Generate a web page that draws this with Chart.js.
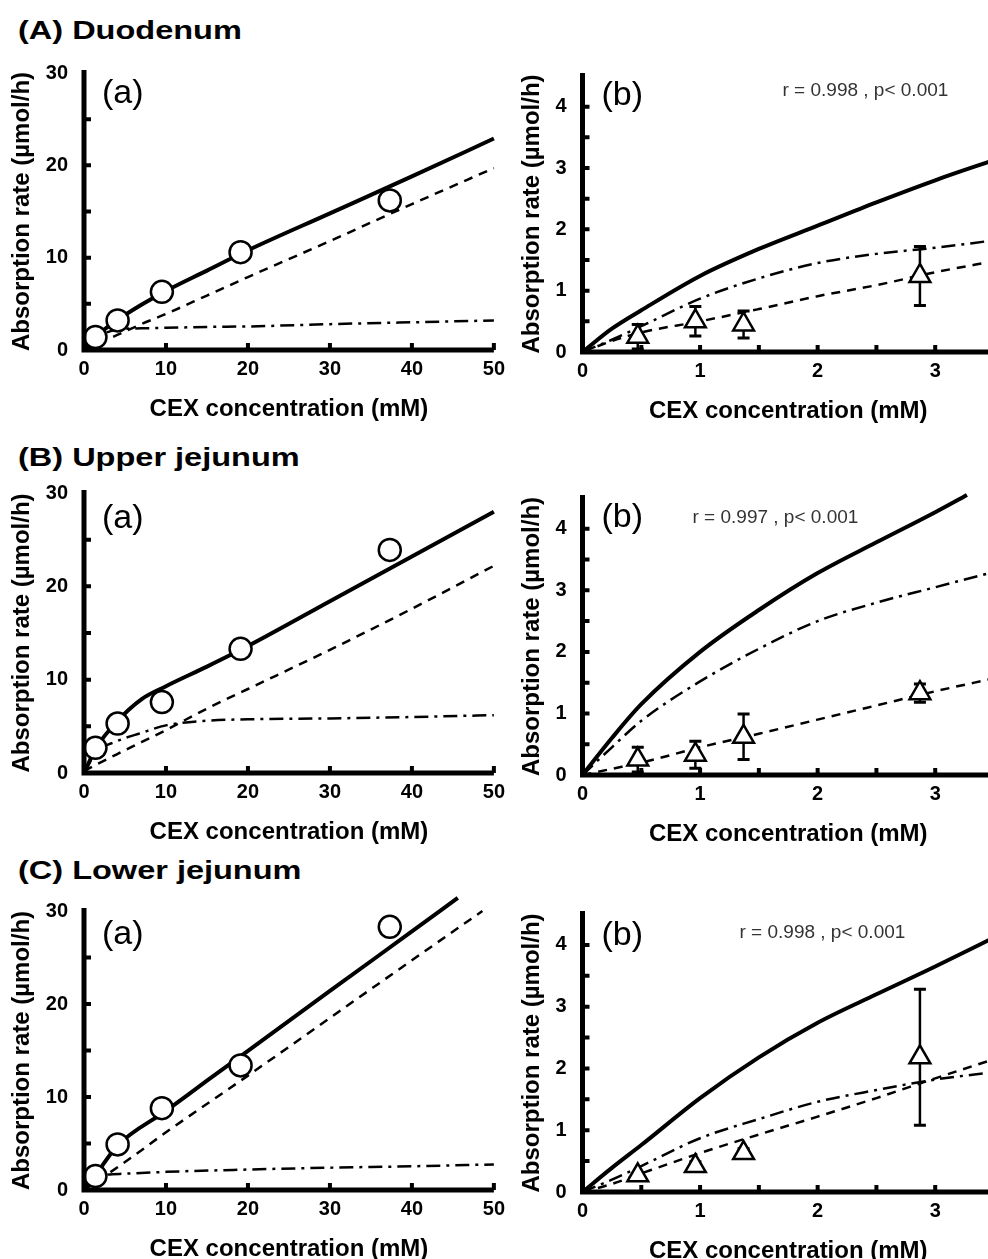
<!DOCTYPE html>
<html>
<head>
<meta charset="utf-8">
<script src="https://cdn.jsdelivr.net/npm/chart.js@4.4.0/dist/chart.umd.min.js"></script>
<style>
  html, body { margin: 0; padding: 0; background: #fff; overflow: hidden; }
  body { width: 988px; height: 1259px; position: relative; font-family: "Liberation Sans", Arial, sans-serif; }
  .section { position: absolute; left: 18px; font-weight: bold; font-size: 25px; line-height: 30px;
             transform: scaleX(1.3); transform-origin: left center; white-space: nowrap; }
  canvas { position: absolute; }
</style>
</head>
<body>
<div class="section" style="top:15px">(A) Duodenum</div>
<div class="section" style="top:442px">(B) Upper jejunum</div>
<div class="section" style="top:855px">(C) Lower jejunum</div>
<canvas id="Aa"></canvas>
<canvas id="Ab"></canvas>
<canvas id="Ba"></canvas>
<canvas id="Bb"></canvas>
<canvas id="Ca"></canvas>
<canvas id="Cb"></canvas>
<script>
// x grids used by the fitted curves
const gridA = [0, 1.5, 4, 7, 10, 15, 20, 30, 40, 50];      // mM, panels (a)
const gridB = [0, 0.25, 0.5, 1, 1.5, 2, 2.5, 3, 3.5];      // mM, panels (b)

// measured points
const concA = [1.4, 4.1, 9.5, 19.1, 37.3];   // circles
const concB = [0.47, 0.96, 1.37, 2.87];      // triangles

// (A) Duodenum
const duoObsA     = [1.4, 3.2, 6.3, 10.6, 16.2];
const duoTotalA   = [0, 1.5, 3.2, 4.9, 6.4, 8.6, 10.8, 14.8, 18.8, 22.9];
const duoPassiveA = [0, 0.6, 1.6, 2.8, 3.9, 5.9, 7.9, 11.8, 15.8, 19.7];
const duoCarrierA = [0, 1.3, 2.2, 2.35, 2.4, 2.5, 2.55, 2.8, 3.0, 3.2];
const duoObsB     = [0.25, 0.5, 0.45, 1.24];
const duoErrB     = [0.2, 0.24, 0.22, 0.48];
const duoSolidB   = [0, 0.38, 0.68, 1.24, 1.68, 2.06, 2.44, 2.8, 3.13];
const duoDashDotB = [0, 0.2, 0.42, 0.87, 1.2, 1.45, 1.6, 1.7, 1.82];
const duoDashedB  = [0, 0.18, 0.32, 0.5, 0.7, 0.91, 1.09, 1.3, 1.48];

// (B) Upper jejunum
const upObsA     = [2.7, 5.3, 7.6, 13.3, 23.9];
const upTotalA   = [0, 2.7, 5.5, 7.9, 9.3, 11.4, 13.6, 18.4, 23.2, 28.0];
const upPassiveA = [0.2, 0.9, 2.0, 3.3, 4.6, 6.9, 9.0, 13.2, 17.6, 22.2];
const upCarrierA = [0, 2.2, 3.4, 4.3, 5.1, 5.6, 5.75, 5.85, 6.0, 6.2];
const upObsB     = [0.25, 0.33, 0.62, 1.33];
const upErrB     = [0.2, 0.22, 0.37, 0.15];
const upSolidX   = [0, 0.25, 0.5, 1, 1.5, 2, 2.5, 3, 3.27];
const upSolidB   = [0, 0.6, 1.15, 2.0, 2.68, 3.28, 3.78, 4.27, 4.55];
const upDashDotB = [0, 0.45, 0.88, 1.52, 2.05, 2.5, 2.8, 3.05, 3.3];
const upDashedB  = [0, 0.1, 0.2, 0.45, 0.67, 0.9, 1.13, 1.36, 1.57];

// (C) Lower jejunum
const lowObsA      = [1.5, 4.9, 8.8, 13.4, 28.3];
const lowTotalX    = [0, 1.5, 4, 10, 15, 20, 30, 40, 45.6];
const lowTotalA    = [0, 1.7, 4.7, 8.5, 11.75, 14.95, 21.4, 27.8, 31.4];
const lowPassiveX  = [0, 5, 10, 20, 30, 40, 48.6];
const lowPassiveA  = [0, 3.0, 6.2, 12.3, 18.5, 24.7, 30.0];
const lowCarrierX  = [0, 1, 2.5, 5, 10, 20, 30, 40, 50];
const lowCarrierA  = [0, 1.0, 1.6, 1.75, 1.95, 2.2, 2.4, 2.55, 2.75];
const lowObsB      = [0.27, 0.42, 0.63, 2.18];
const lowErrB      = [0.03, 0.07, 0.07, 1.1];
const lowSolidB    = [0, 0.39, 0.76, 1.52, 2.18, 2.74, 3.2, 3.65, 4.12];
const lowDashDotB  = [0, 0.2, 0.42, 0.87, 1.18, 1.46, 1.65, 1.82, 1.94];
const lowDashedB   = [0, 0.13, 0.3, 0.63, 0.93, 1.22, 1.52, 1.84, 2.15];

const FONT = "'Liberation Sans', Arial, sans-serif";
Chart.defaults.font.family = FONT;
Chart.defaults.color = '#000';

const LINE = {
  solid:   { w: 4,   dash: [] },
  dashed:  { w: 2.5, dash: [9, 7] },
  dashdot: { w: 2.5, dash: [14, 6, 3, 6] }
};

function pairs(xs, ys) {
  return xs.map((x, i) => ({ x: x, y: ys[i] }));
}

// axes with inward ticks, error bars and the small in-panel texts
const decor = {
  id: 'decor',
  beforeDatasetsDraw(chart) {
    const { ctx, scales: { x, y } } = chart;
    ctx.save();
    ctx.strokeStyle = '#000';
    chart.data.datasets.forEach(ds => {
      if (!ds.errors) return;
      ds.data.forEach((p, i) => {
        const e = ds.errors[i];
        if (!e) return;
        const px = x.getPixelForValue(p.x);
        const yt = y.getPixelForValue(p.y + e);
        const yb = y.getPixelForValue(p.y - e);
        ctx.lineWidth = 2.5;
        ctx.beginPath();
        ctx.moveTo(px, yt); ctx.lineTo(px, yb);
        ctx.stroke();
        ctx.lineWidth = 3;
        ctx.beginPath();
        ctx.moveTo(px - 6, yt); ctx.lineTo(px + 6, yt);
        ctx.moveTo(px - 6, yb); ctx.lineTo(px + 6, yb);
        ctx.stroke();
      });
    });
    ctx.restore();
  },
  afterDraw(chart, args, o) {
    const { ctx, chartArea: a, scales: { x, y } } = chart;
    ctx.save();
    ctx.strokeStyle = '#000';
    ctx.lineWidth = 5;
    ctx.beginPath();
    ctx.moveTo(a.left, a.bottom + 2.5); ctx.lineTo(a.left, a.top - 3);
    ctx.moveTo(a.left - 2.5, a.bottom); ctx.lineTo(a.right, a.bottom);
    ctx.stroke();

    ctx.lineWidth = 4;
    ctx.beginPath();
    y.ticks.forEach(t => {
      if (t.value <= y.min || t.value >= y.max) return;
      const py = y.getPixelForValue(t.value);
      ctx.moveTo(a.left, py); ctx.lineTo(a.left + 7, py);
    });
    x.ticks.forEach(t => {
      if (t.value <= x.min) return;
      const px = x.getPixelForValue(t.value);
      ctx.moveTo(px, a.bottom); ctx.lineTo(px, a.bottom - 7);
    });
    ctx.stroke();

    ctx.fillStyle = '#000';
    ctx.textAlign = 'left';
    ctx.textBaseline = 'middle';
    ctx.font = '34px ' + FONT;
    ctx.fillText(o.tag, a.left + o.tagDx, a.top + o.tagDy);
    if (o.stat) {
      ctx.font = '19px ' + FONT;
      ctx.fillStyle = '#333';
      ctx.fillText(o.stat, a.left + o.statDx, a.top + o.statDy);
    }
    ctx.restore();
  }
};
Chart.register(decor);

function panel(id, cfg) {
  const right = cfg.side === 'right';
  const cv = document.getElementById(id);
  cv.width = right ? 520 : 512;
  cv.height = 20 + cfg.chartH + 75;
  cv.style.left = (right ? 490 : 0) + 'px';
  cv.style.top = (cfg.chartTop - 20) + 'px';

  const datasets = [{
    data: pairs(cfg.markX, cfg.markY),
    errors: cfg.markErr || null,
    showLine: false,
    pointStyle: right ? 'triangle' : 'circle',
    pointRadius: right ? 12 : 11,
    pointBorderWidth: 2.5,
    pointBackgroundColor: '#fff',
    pointBorderColor: '#000'
  }];
  cfg.curves.forEach(c => {
    datasets.push({
      data: pairs(c.x, c.y),
      showLine: true,
      pointRadius: 0,
      borderColor: '#000',
      borderWidth: LINE[c.style].w,
      borderDash: LINE[c.style].dash,
      cubicInterpolationMode: 'monotone',
      fill: false,
      clip: false
    });
  });

  new Chart(cv, {
    type: 'scatter',
    data: { datasets },
    options: {
      responsive: false,
      animation: false,
      devicePixelRatio: 1,
      events: [],
      layout: { padding: { top: 20, right: right ? 16 : 14, left: 0, bottom: 0 } },
      plugins: {
        legend: { display: false },
        tooltip: { enabled: false },
        decor: { tag: cfg.tag, tagDx: cfg.tagDx, tagDy: cfg.tagDy,
                 stat: cfg.stat || '', statDx: cfg.statDx || 0, statDy: cfg.statDy || 0 }
      },
      scales: {
        x: {
          type: 'linear',
          min: 0,
          max: right ? 3.5 : 50,
          grid: { display: false, drawTicks: false },
          border: { display: false },
          ticks: {
            stepSize: right ? 0.5 : 10,
            padding: 7,
            autoSkip: false,
            maxRotation: 0,
            font: { size: 20, weight: 'bold' },
            callback: v => (right && !Number.isInteger(v)) ? '' : v
          },
          title: { display: true, text: 'CEX concentration (mM)',
                   font: { size: 24, weight: 'bold' }, padding: { top: 0, bottom: 1 } },
          afterFit: s => { s.height = 75; }
        },
        y: {
          type: 'linear',
          min: 0,
          max: right ? 4.5 : 30,
          grid: { display: false, drawTicks: false },
          border: { display: false },
          ticks: {
            stepSize: right ? 0.5 : 5,
            padding: 16,
            autoSkip: false,
            font: { size: 20, weight: 'bold' },
            callback: v => (v % (right ? 1 : 10) === 0) ? v : ''
          },
          title: { display: true, text: 'Absorption rate (\u00b5mol/h)',
                   font: { size: 24, weight: 'bold' }, padding: { top: right ? 28 : 8, bottom: 0 } },
          afterFit: s => { s.width = right ? 92.5 : 84; }
        }
      }
    }
  });
}

panel('Aa', {
  side: 'left', chartTop: 65, chartH: 285,
  markX: concA, markY: duoObsA,
  curves: [
    { x: gridA, y: duoTotalA, style: 'solid' },
    { x: gridA, y: duoPassiveA, style: 'dashed' },
    { x: gridA, y: duoCarrierA, style: 'dashdot' }
  ],
  tag: '(a)', tagDx: 18, tagDy: 21
});
panel('Ab', {
  side: 'right', chartTop: 68, chartH: 284,
  markX: concB, markY: duoObsB, markErr: duoErrB,
  curves: [
    { x: gridB, y: duoSolidB, style: 'solid' },
    { x: gridB, y: duoDashDotB, style: 'dashdot' },
    { x: gridB, y: duoDashedB, style: 'dashed' }
  ],
  tag: '(b)', tagDx: 19, tagDy: 20,
  stat: 'r = 0.998 , p< 0.001', statDx: 200, statDy: 15
});
panel('Ba', {
  side: 'left', chartTop: 485, chartH: 288,
  markX: concA, markY: upObsA,
  curves: [
    { x: gridA, y: upTotalA, style: 'solid' },
    { x: gridA, y: upPassiveA, style: 'dashed' },
    { x: gridA, y: upCarrierA, style: 'dashdot' }
  ],
  tag: '(a)', tagDx: 18, tagDy: 26
});
panel('Bb', {
  side: 'right', chartTop: 490, chartH: 285,
  markX: concB, markY: upObsB, markErr: upErrB,
  curves: [
    { x: upSolidX, y: upSolidB, style: 'solid' },
    { x: gridB, y: upDashDotB, style: 'dashdot' },
    { x: gridB, y: upDashedB, style: 'dashed' }
  ],
  tag: '(b)', tagDx: 19, tagDy: 20,
  stat: 'r = 0.997 , p< 0.001', statDx: 110, statDy: 20
});
panel('Ca', {
  side: 'left', chartTop: 903, chartH: 287,
  markX: concA, markY: lowObsA,
  curves: [
    { x: lowTotalX, y: lowTotalA, style: 'solid' },
    { x: lowPassiveX, y: lowPassiveA, style: 'dashed' },
    { x: lowCarrierX, y: lowCarrierA, style: 'dashdot' }
  ],
  tag: '(a)', tagDx: 18, tagDy: 24
});
panel('Cb', {
  side: 'right', chartTop: 906, chartH: 286,
  markX: concB, markY: lowObsB, markErr: lowErrB,
  curves: [
    { x: gridB, y: lowSolidB, style: 'solid' },
    { x: gridB, y: lowDashDotB, style: 'dashdot' },
    { x: gridB, y: lowDashedB, style: 'dashed' }
  ],
  tag: '(b)', tagDx: 19, tagDy: 22,
  stat: 'r = 0.998 , p< 0.001', statDx: 157, statDy: 19
});
</script>
</body>
</html>
